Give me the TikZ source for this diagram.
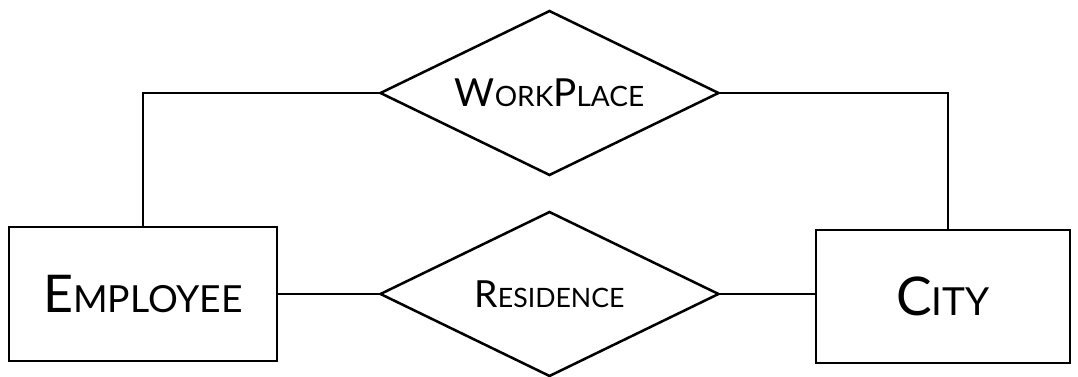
\documentclass[tikz,border=0pt]{standalone}
\usepackage{fontspec}
\setmainfont{Lato}
\usetikzlibrary{shapes.geometric}
\newcommand\fakesc[4]{{\fontsize{#1}{#1}\selectfont #3}{\fontsize{#2}{#2}\selectfont #4}}
\tikzset{
  entity/.style={draw, line width=1.9pt, rectangle, inner sep=0pt},
  relation/.style={draw, line width=1.9pt, diamond, aspect=2.06, inner sep=0pt, minimum width=339*0.75pt, minimum height=165*0.75pt},
  link/.style={line width=1.9pt}
}
\begin{document}
\begin{tikzpicture}[x=0.75pt,y=-0.75pt]
\useasboundingbox (0,0) rectangle (1078,377);
\node[entity, minimum width=268*0.75pt, minimum height=134*0.75pt] (emp) at (143,294) {\fakesc{39}{28}{E}{MPLOYEE}};
\node[entity, minimum width=254*0.75pt, minimum height=133*0.75pt] (city) at (943,296.5) {\fakesc{40}{29}{C}{ITY}};
\node[relation] (wp) at (549.5,93) {\fakesc{29}{21}{W}{ORK}\fakesc{29}{21}{P}{LACE}};
\node[relation] (res) at (549.5,294) {\fakesc{28}{20}{R}{ESIDENCE}};
\coordinate (cityup) at ([xshift=5*0.75pt]city.north);
\draw[link] (emp.north) |- (wp.west);
\draw[link] (wp.east) -| (cityup);
\draw[link] (emp.east) -- (res.west);
\draw[link] (res.east) -- (res.east -| city.west);
\end{tikzpicture}
\end{document}
